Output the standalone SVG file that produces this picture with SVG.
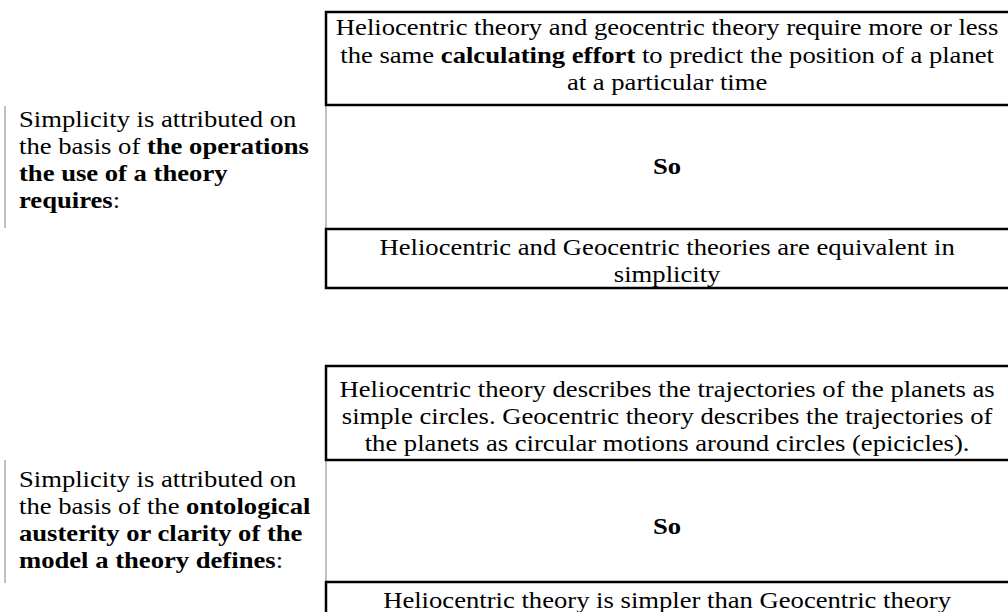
<svg xmlns="http://www.w3.org/2000/svg" width="1008" height="612" viewBox="0 0 1008 612">
<style>
text{font-family:"Liberation Serif","Times New Roman",serif;font-size:24px;fill:#000}
.c{text-anchor:middle}
.b{font-weight:bold}
.box{fill:#fff;stroke:#000;stroke-width:2.5}
.gl{stroke:#c0c0c0;stroke-width:2;fill:none}
</style>
<rect width="1008" height="612" fill="#fff"/>
<g id="connectors">
<line class="gl" x1="5" y1="106" x2="5" y2="228"/>
<line class="gl" x1="326" y1="105" x2="326" y2="229"/>
<line class="gl" x1="5" y1="460" x2="5" y2="583"/>
<line class="gl" x1="326" y1="460" x2="326" y2="583"/>
</g>
<g id="label1">
<g transform="scale(1.11,1)">
<text x="17.1" y="127">Simplicity is attributed on</text>
<text x="17.1" y="154">the basis of <tspan class="b">the operations</tspan></text>
<text x="17.1" y="181" class="b">the use of a theory</text>
<text x="17.1" y="208"><tspan class="b">requires</tspan>:</text>
</g>
</g>
<g id="premise1">
<rect class="box" x="326" y="12" width="690" height="93"/>
<g transform="scale(1.11,1)">
<text class="c" x="601" y="35">Heliocentric theory and geocentric theory require more or less</text>
<text class="c" x="601" y="63">the same <tspan class="b">calculating effort</tspan> to predict the position of a planet</text>
<text class="c" x="601" y="90">at a particular time</text>
</g>
</g>
<g id="so1">
<g transform="scale(1.11,1)">
<text class="c b" x="601" y="174">So</text>
</g>
</g>
<g id="conclusion1">
<rect class="box" x="326" y="229" width="690" height="59"/>
<g transform="scale(1.11,1)">
<text class="c" x="601" y="255">Heliocentric and Geocentric theories are equivalent in</text>
<text class="c" x="601" y="282">simplicity</text>
</g>
</g>
<g id="label2">
<g transform="scale(1.11,1)">
<text x="17.1" y="487">Simplicity is attributed on</text>
<text x="17.1" y="514">the basis of the <tspan class="b">ontological</tspan></text>
<text x="17.1" y="541" class="b">austerity or clarity of the</text>
<text x="17.1" y="568"><tspan class="b">model a theory defines</tspan>:</text>
</g>
</g>
<g id="premise2">
<rect class="box" x="326" y="366" width="690" height="94"/>
<g transform="scale(1.11,1)">
<text class="c" x="601" y="397">Heliocentric theory describes the trajectories of the planets as</text>
<text class="c" x="601" y="424">simple circles. Geocentric theory describes the trajectories of</text>
<text class="c" x="601" y="451">the planets as circular motions around circles (epicicles).</text>
</g>
</g>
<g id="so2">
<g transform="scale(1.11,1)">
<text class="c b" x="601" y="534">So</text>
</g>
</g>
<g id="conclusion2">
<rect class="box" x="326" y="582" width="690" height="50"/>
<g transform="scale(1.11,1)">
<text class="c" x="601" y="608">Heliocentric theory is simpler than Geocentric theory</text>
</g>
</g>
</svg>
